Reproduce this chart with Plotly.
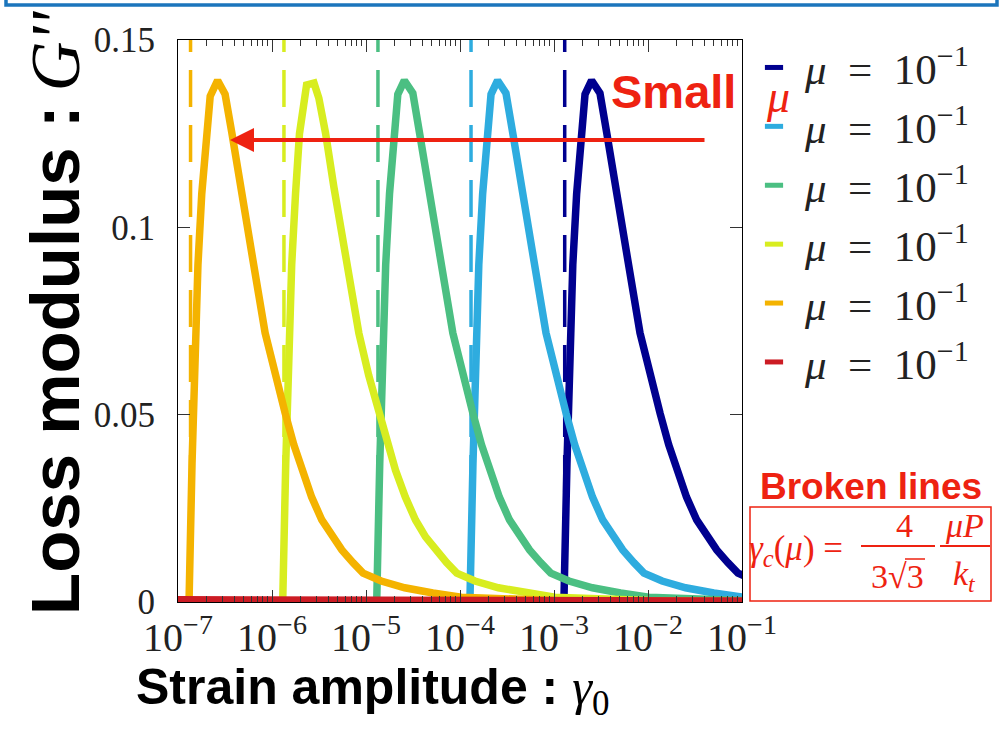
import plotly.graph_objects as go

# ---------------- data ----------------
legend_names = ["<i>μ</i>\u2002=\u200210<sup>−1</sup>"] * 6
colors = ["#00008F", "#2EACDF", "#4BBF82", "#D8ED20", "#F4B300", "#CC1C24"]

# critical strains (broken lines)
gamma_c = [1.30e-3, 1.31e-4, 1.34e-5, 1.34e-6, 1.36e-7]

x_navy = [1e-9, 1.274e-3, 1.374e-3, 1.479e-3, 1.585e-3, 1.742e-3, 1.923e-3, 2.138e-3, 2.512e-3, 3.083e-3,
          3.639e-3, 4.457e-3, 5.929e-3, 8.222e-3, 1.047e-2, 1.343e-2, 1.660e-2, 2.018e-2, 2.570e-2,
          3.296e-2, 4.217e-2, 5.383e-2, 7.079e-2, 9.057e-2, 1.413e-1, 2.512e-1, 5.012e-1, 1.0, 10.0, 100.0]
y_navy = [0, 0, 0.037, 0.072, 0.090, 0.109, 0.125, 0.1355, 0.1392, 0.1358,
          0.1252, 0.1108, 0.0931, 0.0718, 0.0605, 0.0504, 0.0420, 0.0352, 0.0280,
          0.0219, 0.0174, 0.0139, 0.0105, 0.0077, 0.0056, 0.0038, 0.0024, 0.0013, 0.0004, 0.0001]

x_blue = [1e-9, 1.274e-4, 1.374e-4, 1.479e-4, 1.585e-4, 1.742e-4, 1.923e-4, 2.138e-4, 2.512e-4, 3.083e-4,
          3.639e-4, 4.457e-4, 5.929e-4, 8.222e-4, 1.047e-3, 1.343e-3, 1.660e-3, 2.018e-3, 2.570e-3,
          3.296e-3, 4.217e-3, 5.383e-3, 7.079e-3, 9.057e-3, 1.413e-2, 2.512e-2, 5.012e-2, 1.0e-1, 1.0, 10.0]
y_blue = [0, 0, 0.037, 0.072, 0.090, 0.109, 0.125, 0.1355, 0.1392, 0.1358,
          0.1252, 0.1108, 0.0931, 0.0718, 0.0605, 0.0504, 0.0420, 0.0352, 0.0280,
          0.0219, 0.0174, 0.0139, 0.0105, 0.0077, 0.0056, 0.0038, 0.0024, 0.0013, 0.0004, 0.0001]

x_green = [1e-9, 1.30e-5, 1.40e-5, 1.51e-5, 1.62e-5, 1.78e-5, 1.96e-5, 2.18e-5, 2.56e-5, 3.15e-5,
           3.71e-5, 4.55e-5, 6.05e-5, 8.39e-5, 1.068e-4, 1.370e-4, 1.693e-4, 2.058e-4, 2.621e-4,
           3.362e-4, 4.301e-4, 5.491e-4, 7.221e-4, 9.238e-4, 1.441e-3, 2.562e-3, 5.112e-3, 1.02e-2, 1.02e-1, 1.02]
y_green = [0, 0, 0.037, 0.072, 0.090, 0.109, 0.125, 0.1355, 0.1392, 0.1358,
           0.1252, 0.1108, 0.0931, 0.0718, 0.0605, 0.0504, 0.0420, 0.0352, 0.0280,
           0.0219, 0.0174, 0.0139, 0.0105, 0.0077, 0.0056, 0.0038, 0.0024, 0.0013, 0.0004, 0.0001]

x_yellow = [1e-9, 1.30e-6, 1.40e-6, 1.51e-6, 1.62e-6, 1.78e-6, 1.96e-6, 2.333e-6, 2.799e-6, 3.15e-6,
            3.71e-6, 4.55e-6, 6.05e-6, 8.39e-6, 1.068e-5, 1.370e-5, 1.693e-5, 2.058e-5, 2.621e-5,
            3.362e-5, 4.301e-5, 5.491e-5, 7.221e-5, 9.238e-5, 1.441e-4, 2.562e-4, 5.112e-4, 1.02e-3, 1.02e-2, 1.02e-1]
y_yellow = [0, 0, 0.037, 0.072, 0.090, 0.109, 0.125, 0.1380, 0.1385, 0.1345,
            0.1252, 0.1108, 0.0931, 0.0718, 0.0605, 0.0504, 0.0420, 0.0352, 0.0280,
            0.0219, 0.0174, 0.0139, 0.0105, 0.0077, 0.0056, 0.0038, 0.0024, 0.0013, 0.0004, 0.0001]

x_orange = [1e-9, 1.31e-7, 1.41e-7, 1.52e-7, 1.63e-7, 1.79e-7, 1.98e-7, 2.20e-7, 2.64e-7, 3.17e-7,
            3.74e-7, 4.58e-7, 6.09e-7, 8.45e-7, 1.076e-6, 1.380e-6, 1.706e-6, 2.074e-6, 2.641e-6,
            3.387e-6, 4.334e-6, 5.532e-6, 7.275e-6, 9.307e-6, 1.452e-5, 2.581e-5, 5.150e-5, 1.03e-4, 1.03e-3, 1.03e-2]
y_orange = [0, 0, 0.037, 0.072, 0.090, 0.109, 0.125, 0.1350, 0.1392, 0.1355,
            0.1252, 0.1108, 0.0931, 0.0718, 0.0605, 0.0504, 0.0420, 0.0352, 0.0280,
            0.0219, 0.0174, 0.0139, 0.0105, 0.0077, 0.0056, 0.0038, 0.0024, 0.0013, 0.0004, 0.0001]

x_red = [1e-9, 1e-7, 1e-6, 1e-5, 1e-4, 1e-3, 1e-2, 1e-1, 1.0]
y_red = [0.0009, 0.0008, 0.0007, 0.0006, 0.0005, 0.0005, 0.0004, 0.0004, 0.0004]

x_tickvals = [1e-7, 1e-6, 1e-5, 1e-4, 1e-3, 1e-2, 1e-1]
x_ticktext = ["10<sup>−7</sup>", "10<sup>−6</sup>", "10<sup>−5</sup>", "10<sup>−4</sup>",
              "10<sup>−3</sup>", "10<sup>−2</sup>", "10<sup>−1</sup>"]
y_tickvals = [0, 0.05, 0.1, 0.15]
y_ticktext = ["0", "0.05", "0.1", "0.15"]

series_x = [x_navy, x_blue, x_green, x_yellow, x_orange, x_red]
series_y = [y_navy, y_blue, y_green, y_yellow, y_orange, y_red]

# ---------------- layout geometry helpers ----------------
W, H = 1005, 731
L, R, T, B = 178, 263, 40, 129
PW, PH = W - L - R, H - T - B


def px(xp):
    return (xp - L) / PW


def py(yp):
    return (H - B - yp) / PH


SERIF = "Liberation Serif"
SANS = "Liberation Sans"
RED = "#EE2211"

fig = go.Figure()

for i in range(6):
    if i < 5:
        fig.add_trace(go.Scatter(x=[gamma_c[i], gamma_c[i]], y=[0, 0.15], mode="lines",
                                 line=dict(color=colors[i], width=3.5, dash="37px,18px"),
                                 showlegend=False, hoverinfo="skip"))
    fig.add_trace(go.Scatter(x=series_x[i], y=series_y[i], mode="lines",
                             line=dict(color=colors[i], width=7.5 if i < 5 else 6),
                             showlegend=False))

for i in range(6):
    fig.add_trace(go.Scatter(x=[None], y=[None], mode="markers", name=legend_names[i],
                             marker=dict(symbol="line-ew", size=13,
                                         line=dict(color=colors[i], width=5), color=colors[i])))

minor_vals = [m * 10.0 ** e for e in range(-7, -1) for m in range(2, 10)]

fig.update_layout(
    width=W, height=H,
    margin=dict(l=L, r=R, t=T, b=B),
    paper_bgcolor="white", plot_bgcolor="white",
    showlegend=True,
    legend=dict(x=px(743), y=py(33), xanchor="left", yanchor="top",
                font=dict(family=SERIF, size=43, color="#222"),
                itemwidth=52, bgcolor="rgba(0,0,0,0)", tracegroupgap=0),
    xaxis=dict(type="log", range=[-7, -1], tickmode="array", tickvals=x_tickvals,
               ticktext=x_ticktext, ticks="inside", ticklen=12, tickwidth=1, tickcolor="#333",
               showline=True, linecolor="black", linewidth=1, mirror="allticks",
               showgrid=False, zeroline=False,
               tickfont=dict(family=SERIF, size=40, color="#222"),
               minor=dict(tickmode="array", tickvals=minor_vals, ticks="inside", ticklen=6,
                          tickcolor="#333", showgrid=False)),
    yaxis=dict(range=[0, 0.15], tickmode="array", tickvals=y_tickvals, ticktext=y_ticktext,
               ticks="inside", ticklen=12, tickwidth=1, tickcolor="#333",
               showline=True, linecolor="black", linewidth=1, mirror="allticks",
               showgrid=False, zeroline=False, ticklabelstandoff=15,
               tickfont=dict(family=SERIF, size=35, color="#222")),
)

ann = []
# axis titles
ann.append(dict(xref="paper", yref="paper", x=px(372), y=py(691), xanchor="center", yanchor="middle",
                text="<b>Strain amplitude :</b> <span style='font-family:Liberation Serif'><i>γ</i><sub>0</sub></span>",
                showarrow=False, font=dict(family=SANS, size=50, color="black")))
ann.append(dict(xref="paper", yref="paper", x=px(55), y=py(313), xanchor="center", yanchor="middle",
                textangle=-90,
                text="<b>Loss modulus :</b>\u2009<span style='font-family:Liberation Serif'><i>G''</i></span>",
                showarrow=False, font=dict(family=SANS, size=69, color="black")))
# Small mu + arrow
ann.append(dict(xref="paper", yref="paper", x=px(609), y=py(91), xanchor="left", yanchor="middle",
                text="<b>Small</b>", showarrow=False, font=dict(family=SANS, size=47, color=RED)))
ann.append(dict(xref="paper", yref="paper", x=px(764), y=py(97), xanchor="left", yanchor="middle",
                text="<i>μ</i>", showarrow=False, font=dict(family=SERIF, size=46, color=RED)))
ann.append(dict(xref="x", yref="y", axref="x", ayref="y", x=-6.447, y=0.1233, ax=-1.383, ay=0.1233,
                text="", showarrow=True, arrowhead=2, arrowsize=1.2, arrowwidth=4, arrowcolor=RED))
# Broken lines formula
ann.append(dict(xref="paper", yref="paper", x=px(871), y=py(486), xanchor="center", yanchor="middle",
                text="<b>Broken lines</b>", showarrow=False, font=dict(family=SANS, size=37, color=RED)))
ann.append(dict(xref="paper", yref="paper", x=px(747), y=py(550), xanchor="left", yanchor="middle",
                text="<i>γ</i><sub><i>c</i></sub>(<i>μ</i>) =", showarrow=False,
                font=dict(family=SERIF, size=35, color=RED)))
ann.append(dict(xref="paper", yref="paper", x=px(905), y=py(525), xanchor="center", yanchor="middle",
                text="4", showarrow=False, font=dict(family=SERIF, size=34, color=RED)))
ann.append(dict(xref="paper", yref="paper", x=px(897), y=py(576), xanchor="center", yanchor="middle",
                text="3√3", showarrow=False, font=dict(family=SERIF, size=34, color=RED)))
ann.append(dict(xref="paper", yref="paper", x=px(964), y=py(525), xanchor="center", yanchor="middle",
                text="<i>μP</i>", showarrow=False, font=dict(family=SERIF, size=34, color=RED)))
ann.append(dict(xref="paper", yref="paper", x=px(964), y=py(576), xanchor="center", yanchor="middle",
                text="<i>k</i><sub><i>t</i></sub>", showarrow=False, font=dict(family=SERIF, size=34, color=RED)))
fig.update_layout(annotations=ann)

shapes = []
# blue frame (bottom edge visible at top of image)
shapes.append(dict(type="rect", xref="paper", yref="paper", x0=px(6), x1=px(997), y0=py(5), y1=py(-20),
                   line=dict(color="#1B75BC", width=3.5)))
# formula box
shapes.append(dict(type="rect", xref="paper", yref="paper", x0=px(750), x1=px(991), y0=py(507), y1=py(601),
                   line=dict(color=RED, width=1.5)))
# fraction bars
shapes.append(dict(type="line", xref="paper", yref="paper", x0=px(861), x1=px(935), y0=py(546), y1=py(546),
                   line=dict(color=RED, width=2)))
shapes.append(dict(type="line", xref="paper", yref="paper", x0=px(940), x1=px(990), y0=py(546), y1=py(546),
                   line=dict(color=RED, width=2)))
# overline of sqrt
shapes.append(dict(type="line", xref="paper", yref="paper", x0=px(905), x1=px(925), y0=py(559), y1=py(559),
                   line=dict(color=RED, width=1.5)))
fig.update_layout(shapes=shapes)

fig.write_html("out.html")
